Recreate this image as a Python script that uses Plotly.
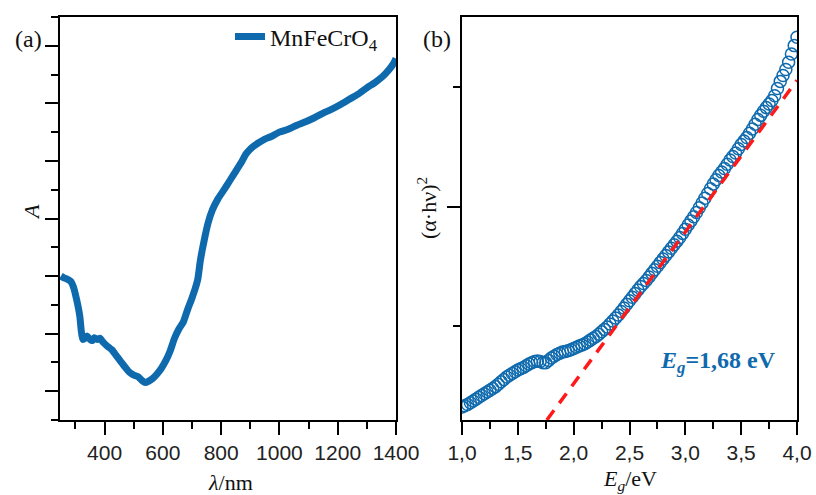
import plotly.graph_objects as go

# ---- Panel (a): absorbance spectrum ----
wavelength_nm = [250, 260, 270, 285, 295, 300, 308, 315, 320, 325, 333, 340, 350, 358, 365, 375, 385, 395,
                 410, 425, 440, 455, 470, 485, 500, 515, 530, 540, 550, 565, 580, 595, 610, 625, 640, 655,
                 670, 685, 700, 712, 720, 728, 735, 745, 755, 770, 790, 810, 830, 850, 870, 885, 895, 910,
                 930, 950, 970, 1000, 1030, 1060, 1090, 1120, 1150, 1180, 1210, 1240, 1270, 1300, 1330,
                 1355, 1375, 1390, 1400]
absorbance = [2.0, 1.97, 1.95, 1.9, 1.78, 1.68, 1.5, 1.3, 1.05, 0.9, 0.92, 0.96, 0.9, 0.88, 0.93, 0.9, 0.92, 0.85,
              0.78, 0.72, 0.62, 0.52, 0.42, 0.33, 0.28, 0.25, 0.18, 0.15, 0.17, 0.22, 0.3, 0.4, 0.53, 0.7, 0.92, 1.08,
              1.2, 1.42, 1.62, 1.8, 1.95, 2.25, 2.45, 2.7, 2.92, 3.15, 3.35, 3.5, 3.66, 3.82, 3.98, 4.12, 4.18, 4.25,
              4.32, 4.38, 4.42, 4.5, 4.55, 4.62, 4.68, 4.75, 4.83, 4.9, 4.98, 5.07, 5.16, 5.27, 5.37,
              5.47, 5.58, 5.68, 5.78]

# ---- Panel (b): Tauc plot ----
energy_eV = [1.000, 1.025, 1.050, 1.075, 1.100, 1.125, 1.150, 1.175, 1.200, 1.225, 1.250, 1.275, 1.300, 1.325,
             1.350, 1.375, 1.400, 1.425, 1.450, 1.475, 1.500, 1.525, 1.550, 1.575, 1.600, 1.625, 1.650, 1.675,
             1.700, 1.725, 1.750, 1.775, 1.800, 1.825, 1.850, 1.875, 1.900, 1.925, 1.950, 1.975, 2.000, 2.025,
             2.050, 2.075, 2.100, 2.125, 2.150, 2.175, 2.200, 2.225, 2.250, 2.275, 2.300, 2.325, 2.350, 2.375,
             2.400, 2.425, 2.450, 2.475, 2.500, 2.525, 2.550, 2.575, 2.600, 2.625, 2.650, 2.675, 2.700, 2.725,
             2.750, 2.775, 2.800, 2.825, 2.850, 2.875, 2.900, 2.925, 2.950, 2.975, 3.000, 3.025, 3.050, 3.075,
             3.100, 3.125, 3.150, 3.175, 3.200, 3.225, 3.250, 3.275, 3.300, 3.325, 3.350, 3.375, 3.400, 3.425,
             3.450, 3.475, 3.500, 3.525, 3.550, 3.575, 3.600, 3.625, 3.650, 3.675, 3.700, 3.725, 3.750, 3.775,
             3.800, 3.825, 3.850, 3.875, 3.900, 3.925, 3.950, 3.975, 4.000]
tauc = [-0.68, -0.67, -0.66, -0.645, -0.63, -0.615, -0.60, -0.585, -0.57, -0.555, -0.54, -0.525, -0.51, -0.49,
        -0.47, -0.45, -0.43, -0.415, -0.40, -0.385, -0.37, -0.36, -0.35, -0.335, -0.32, -0.31, -0.30, -0.295,
        -0.30, -0.31, -0.31, -0.29, -0.27, -0.255, -0.24, -0.23, -0.22, -0.215, -0.21, -0.20, -0.19, -0.18,
        -0.17, -0.16, -0.15, -0.135, -0.12, -0.105, -0.09, -0.07, -0.05, -0.03, -0.01, 0.015, 0.04, 0.065,
        0.09, 0.12, 0.15, 0.18, 0.21, 0.24, 0.27, 0.30, 0.33, 0.355, 0.38, 0.41, 0.44, 0.47,
        0.50, 0.53, 0.56, 0.59, 0.62, 0.65, 0.68, 0.71, 0.74, 0.775, 0.81, 0.845, 0.88, 0.915,
        0.95, 0.99, 1.03, 1.07, 1.11, 1.15, 1.19, 1.225, 1.26, 1.29, 1.32, 1.355, 1.39, 1.42,
        1.45, 1.485, 1.52, 1.55, 1.58, 1.615, 1.65, 1.69, 1.73, 1.765, 1.80, 1.83, 1.86, 1.89,
        1.93, 1.99, 2.05, 2.10, 2.15, 2.21, 2.28, 2.35, 2.42]
fit_E = [1.76, 4.0]
fit_y = [-0.79, 2.06]

x_ticks_a = [400, 600, 800, 1000, 1200, 1400]
x_ticks_b = [1.0, 1.5, 2.0, 2.5, 3.0, 3.5, 4.0]
x_ticktext_b = ["1,0", "1,5", "2,0", "2,5", "3,0", "3,5", "4,0"]

BLUE = "#0f6aad"
RED = "#ff1a1a"
SERIF = "Liberation Serif, Times New Roman, serif"
SANS = "Liberation Sans, Arial, sans-serif"

W, H = 816, 495

fig = go.Figure()
fig.add_trace(go.Scatter(x=wavelength_nm, y=absorbance, mode="lines", name="MnFeCrO<sub>4</sub>",
                         line=dict(color=BLUE, width=7, shape="spline", smoothing=0.5),
                         xaxis="x", yaxis="y", showlegend=True))
fig.add_trace(go.Scatter(x=energy_eV, y=tauc, mode="markers", showlegend=False,
                         marker=dict(symbol="circle-open", size=12, color=BLUE, line=dict(width=1.5, color=BLUE)),
                         xaxis="x2", yaxis="y2"))
fig.add_trace(go.Scatter(x=fit_E, y=fit_y, mode="lines", showlegend=False,
                         line=dict(color=RED, width=3.5, dash="12px,9px"), xaxis="x2", yaxis="y2"))

def px_x(p):
    return p / W

def px_y(p):
    return 1 - p / H

axis_common = dict(showline=True, linecolor="black", linewidth=2, mirror=True, ticks="outside",
                   tickwidth=2, tickcolor="black", ticklen=13, showgrid=False, zeroline=False,
                   automargin=False, tickfont=dict(family=SANS, size=21, color="#222"))
minor_common = dict(ticklen=7, tickwidth=2, ticks="outside", tickcolor="black", showgrid=False)

fig.update_layout(
    template="none",
    width=W, height=H, margin=dict(l=0, r=0, t=0, b=0, pad=0), autosize=False,
    paper_bgcolor="white", plot_bgcolor="white",
    xaxis=dict(domain=[px_x(60), px_x(396)], range=[247, 1400], anchor="y",
               tickvals=x_ticks_a, minor=dict(dtick=100, tick0=300, **minor_common), **axis_common),
    yaxis=dict(domain=[px_y(420), px_y(17)], range=[-0.5, 6.5], anchor="x", dtick=1, tick0=0,
               showticklabels=False, minor=dict(dtick=0.5, tick0=0, **minor_common), **axis_common),
    xaxis2=dict(domain=[px_x(462), px_x(797)], range=[1.0, 4.0], anchor="y2",
                tickvals=x_ticks_b, ticktext=x_ticktext_b,
                minor=dict(dtick=0.25, tick0=0, **minor_common), **axis_common),
    yaxis2=dict(domain=[px_y(420), px_y(17)], range=[-0.79, 2.59], anchor="x2", dtick=2, tick0=1,
                showticklabels=False, minor=dict(dtick=1, tick0=0, **minor_common), **axis_common),
    legend=dict(x=px_x(230), y=px_y(37), xanchor="left", yanchor="middle", bgcolor="rgba(0,0,0,0)",
                borderwidth=0, font=dict(family=SERIF, size=24, color="#111")),
    showlegend=True,
)

ann = [
    dict(text="(a)", x=px_x(28), y=px_y(39), font=dict(family=SERIF, size=24, color="#111")),
    dict(text="(b)", x=px_x(437), y=px_y(39), font=dict(family=SERIF, size=24, color="#111")),
    dict(text="<i>λ</i>/nm", x=px_x(230), y=px_y(482), font=dict(family=SERIF, size=22, color="#111")),
    dict(text="<i>E<sub>g</sub></i>/eV", x=px_x(630), y=px_y(480), font=dict(family=SERIF, size=22, color="#111")),
    dict(text="<i>A</i>", x=px_x(31), y=px_y(212), textangle=-90, font=dict(family=SERIF, size=22, color="#111")),
    dict(text="(α·hν)<sup>2</sup>", x=px_x(427), y=px_y(208), textangle=-90, font=dict(family=SERIF, size=22, color="#111")),
    dict(text="<b><i>E<sub>g</sub></i>=1,68 eV</b>", x=px_x(718), y=px_y(362),
         font=dict(family=SERIF, size=24, color=BLUE)),
]
for a in ann:
    a.update(xref="paper", yref="paper", showarrow=False, xanchor="center", yanchor="middle")
    fig.add_annotation(**a)

# Remove the browser's default 8px body margin so the 816x495 figure fills the window exactly.
fig.write_html("out.html", config={"displayModeBar": False},
               post_script="document.body.style.margin='0';document.body.style.overflow='hidden';")
